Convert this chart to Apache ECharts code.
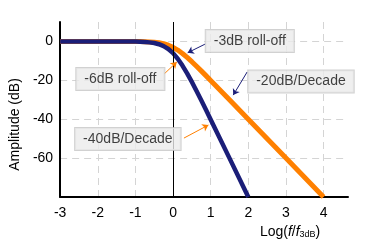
<!DOCTYPE html>
<html><head><meta charset="utf-8">
<script src="https://cdn.jsdelivr.net/npm/echarts@6/dist/echarts.min.js"></script>
<style>html,body{margin:0;padding:0;background:#fff}#c{width:367px;height:250px}</style>
</head><body><div id="c"></div>
<script>
// x: log10(f/f3dB), y: amplitude in dB
const blueX = [-3, -1, -0.875, -0.75, -0.625, -0.5, -0.375, -0.25, -0.125, 0, 0.125, 0.25, 0.375, 0.5, 0.625, 0.75, 0.875, 1, 1.5, 2];
const blueY = [0, -0.09, -0.15, -0.27, -0.48, -0.83, -1.42, -2.39, -3.87, -6.02, -8.87, -12.39, -16.42, -20.83, -25.47, -30.26, -35.15, -40.09, -60.0, -80.0];
const orangeX = [-3, -1, -0.875, -0.75, -0.625, -0.5, -0.375, -0.25, -0.125, 0, 0.125, 0.25, 0.375, 0.5, 0.625, 0.75, 0.875, 1, 1.5, 2, 3, 4];
const orangeY = [0, -0.04, -0.08, -0.14, -0.24, -0.41, -0.71, -1.19, -1.94, -3.01, -4.44, -6.19, -8.21, -10.41, -12.74, -15.13, -17.58, -20.04, -30.0, -40.0, -60.0, -80.0];

const noteText = ['-3dB roll-off', '-6dB roll-off', '-40dB/Decade', '-20dB/Decade'];
const noteX = [2.04, -1.40, -1.20, 3.40];
const noteY = [0.2, -19.3, -50.2, -20.6];
const arrowFromX = [0.86, -0.24, 0.29, 1.97];
const arrowFromY = [-1.3, -16.8, -49.7, -15.7];
const arrowToX = [0.39, 0.10, 0.94, 1.60];
const arrowToY = [-5.8, -10.6, -43.0, -27.6];
const arrowColorKey = ['blue', 'orange', 'orange', 'blue'];

const COLORS = { blue: '#1b1e78', orange: '#ff8000' };
const FONT = '"Liberation Sans", Arial, sans-serif';

const chart = echarts.init(document.getElementById('c'), null, { renderer: 'canvas' });

const zip = (xs, ys) => xs.map((x, i) => [x, ys[i]]);

chart.setOption({
  animation: false,
  backgroundColor: '#fff',
  textStyle: { fontFamily: FONT },
  grid: { left: 57, right: 19, top: 22, bottom: 53, containLabel: false },
  xAxis: {
    type: 'value', min: -3, max: 4.65, interval: 1,
    axisLine: { onZero: false, lineStyle: { color: '#000', width: 2 } },
    axisTick: { show: false },
    axisLabel: { color: '#000', fontSize: 14, margin: 9, fontFamily: FONT, showMaxLabel: false },
    splitLine: { show: true, showMinLine: false, showMaxLine: false, lineStyle: { color: '#d4d4d4', type: [7, 5], width: 1 } },
    name: 'Log({i|f}/{i|f}{s|3dB})',
    nameLocation: 'middle', nameGap: 26,
    nameTextStyle: {
      color: '#000', fontSize: 14, fontFamily: FONT, padding: [0, 0, 0, 172],
      rich: {
        i: { fontStyle: 'italic', fontSize: 14, color: '#000', fontFamily: FONT },
        s: { fontSize: 9, color: '#000', fontFamily: FONT, verticalAlign: 'bottom' }
      }
    }
  },
  yAxis: {
    type: 'value', min: -80, max: 10, interval: 20,
    axisLine: { show: true, onZero: false, lineStyle: { color: '#000', width: 2 } },
    axisTick: { show: false },
    axisLabel: { color: '#000', fontSize: 14, margin: 7, fontFamily: FONT, showMinLabel: false, showMaxLabel: false },
    splitLine: { show: true, showMinLine: false, showMaxLine: false, lineStyle: { color: '#d4d4d4', type: [7, 5], width: 1 } },
    name: 'Amplitude (dB)',
    nameLocation: 'middle', nameGap: 33,
    nameTextStyle: { color: '#000', fontSize: 14, fontFamily: FONT, padding: [0, 30, 0, 0] }
  },
  series: [
    {
      type: 'line', name: '1st order', data: zip(orangeX, orangeY),
      showSymbol: false, smooth: false,
      lineStyle: { color: COLORS.orange, width: 5, join: 'round' }, z: 3
    },
    {
      type: 'line', name: '2nd order', data: zip(blueX, blueY),
      showSymbol: false, smooth: false,
      lineStyle: { color: COLORS.blue, width: 4.5, join: 'round' }, z: 4
    },
    {
      type: 'line', data: [], z: 5,
      markLine: {
        silent: true, symbol: ['none', 'none'], label: { show: false },
        lineStyle: { color: '#000', width: 1, type: 'solid' },
        data: [{ xAxis: 0 }]
      }
    },
    {
      type: 'lines', coordinateSystem: 'cartesian2d', z: 6,
      symbol: ['none', 'arrow'], symbolSize: 6,
      data: noteText.map((t, i) => ({
        coords: [[arrowFromX[i], arrowFromY[i]], [arrowToX[i], arrowToY[i]]],
        lineStyle: { color: COLORS[arrowColorKey[i]], width: 1, opacity: 1 }
      }))
    },
    {
      type: 'scatter', z: 7, symbolSize: 0, silent: true,
      data: noteText.map((t, i) => ({ name: t, value: [noteX[i], noteY[i]] })),
      label: {
        show: true, position: 'inside', formatter: p => p.name,
        color: '#111', fontSize: 14, fontFamily: FONT, lineHeight: 16,
        backgroundColor: '#ebebeb', borderColor: '#c6c6c6', borderWidth: 1,
        padding: [3, 8, 3, 8]
      }
    }
  ]
});
</script>
</body></html>
